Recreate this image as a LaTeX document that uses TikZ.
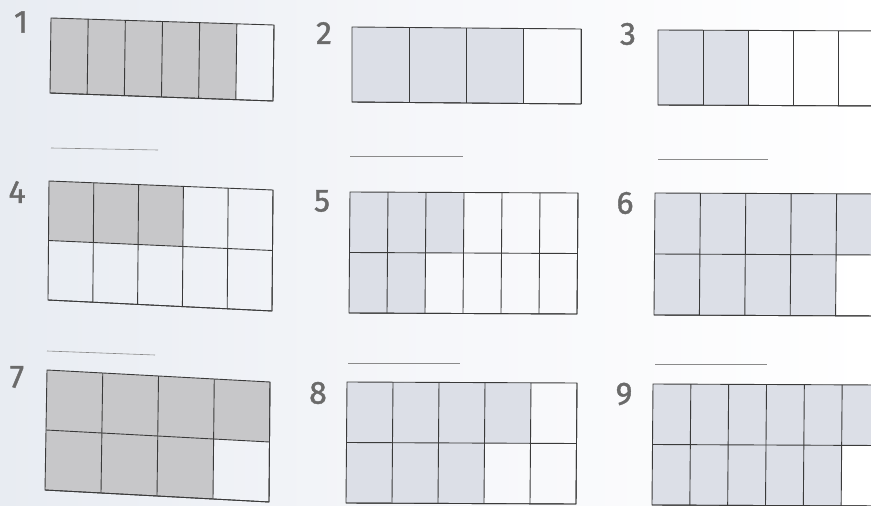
\documentclass[tikz,border=0pt]{standalone}
\usepackage{fontspec}
\setmainfont{Fira Sans}
\newfontfamily\numfont{Fira Sans}[FakeBold=1.3]
\usetikzlibrary{calc}
\definecolor{darkfill}{HTML}{C7C7C9}
\definecolor{lightfill}{HTML}{DCDFE7}
\definecolor{gridcol}{HTML}{3A3A3A}
\definecolor{numcol}{HTML}{6A6A6A}
\definecolor{anscol}{HTML}{8A8A8A}
\definecolor{bgleft}{HTML}{E8ECF2}
\tikzset{
  gridline/.style={draw=gridcol, line width=0.9pt},
  answerline/.style={draw=anscol, line width=0.6pt},
  numlabel/.style={text=numcol, font=\numfont\fontsize{32}{32}\selectfont, inner sep=0pt}
}
% #1 TL, #2 TR, #3 BL, #4 BR, #5 cols, #6 rows, #7 shaded top, #8 shaded bottom, #9 fill
\newcommand\fgrid[9]{%
  \coordinate (TL) at (#1); \coordinate (TR) at (#2);
  \coordinate (BL) at (#3); \coordinate (BR) at (#4);
  \foreach \ri in {1,...,#6}{%
    \foreach \ci in {1,...,#5}{%
      \ifnum\ri=1 \def\ns{#7}\else\def\ns{#8}\fi
      \ifnum\ci>\ns\relax\else
        \pgfmathsetmacro\xa{(\ci-1)/#5}\pgfmathsetmacro\xb{\ci/#5}%
        \pgfmathsetmacro\ya{(\ri-1)/#6}\pgfmathsetmacro\yb{\ri/#6}%
        \fill[#9] ($($(TL)!\xa!(TR)$)!\ya!($(BL)!\xa!(BR)$)$) --
                  ($($(TL)!\xb!(TR)$)!\ya!($(BL)!\xb!(BR)$)$) --
                  ($($(TL)!\xb!(TR)$)!\yb!($(BL)!\xb!(BR)$)$) --
                  ($($(TL)!\xa!(TR)$)!\yb!($(BL)!\xa!(BR)$)$) -- cycle;
      \fi}}
  \foreach \ci in {1,...,#5}{%
    \pgfmathsetmacro\xa{\ci/#5}%
    \draw[gridline] ($(TL)!\xa!(TR)$) -- ($(BL)!\xa!(BR)$);}
  \foreach \ri in {1,...,#6}{%
    \pgfmathsetmacro\ya{\ri/#6}%
    \draw[gridline] ($(TL)!\ya!(BL)$) -- ($(TR)!\ya!(BR)$);}
  \draw[gridline] (TL) -- (TR) -- (BR) -- (BL) -- cycle;
}
\begin{document}
\begin{tikzpicture}[x=1pt,y=-1pt]
\clip (0,0) rectangle (871,506);
\shade[left color=bgleft, right color=white, middle color={rgb,255:red,246;green,247;blue,250}] (0,0) rectangle (871,506);

% row 1
\fgrid{51,18}{274,25}{50,93}{273,101}{6}{1}{5}{0}{darkfill}
\fgrid{352,27}{581,29}{352,102}{581,104}{4}{1}{3}{0}{lightfill}
\fgrid{658,30}{883,31}{658,105}{883,106}{5}{1}{2}{0}{lightfill}
% row 2
\fgrid{49,181}{273,190}{48,300}{272,311}{5}{2}{3}{0}{darkfill}
\fgrid{350,192}{578,193}{349,313}{577,314}{6}{2}{3}{2}{lightfill}
\fgrid{655,193}{882,194}{654,315}{881,316}{5}{2}{5}{4}{lightfill}
% row 3
\fgrid{47,370}{270,382}{45,490}{269,502}{4}{2}{4}{3}{darkfill}
\fgrid{347,382}{577,383}{346,503}{576,504}{5}{2}{4}{3}{lightfill}
\fgrid{653,384}{880,385}{652,505}{879,506}{6}{2}{6}{5}{lightfill}

% numbers
\node[numlabel] (n1) at (21,22) {1};
\node[numlabel] (n2) at (324,33) {2};
\node[numlabel] (n3) at (628,34) {3};
\node[numlabel] (n4) at (17,192) {4};
\node[numlabel] (n5) at (322,201) {5};
\node[numlabel] (n6) at (625,203) {6};
\node[numlabel] (n7) at (17,377) {7};
\node[numlabel] (n8) at (318,393) {8};
\node[numlabel] (n9) at (624,394) {9};

% answer lines
\coordinate (a1s) at (51,148); \coordinate (a1e) at (158,150);
\coordinate (a2s) at (350,156); \coordinate (a2e) at (463,156);
\coordinate (a3s) at (658,159); \coordinate (a3e) at (768,159);
\coordinate (a4s) at (47,351); \coordinate (a4e) at (155,355);
\coordinate (a5s) at (348,363); \coordinate (a5e) at (460,363);
\coordinate (a6s) at (655,364); \coordinate (a6e) at (767,364);
\foreach \i in {1,...,6}{\draw[answerline] (a\i s) -- (a\i e);}
\end{tikzpicture}
\end{document}
